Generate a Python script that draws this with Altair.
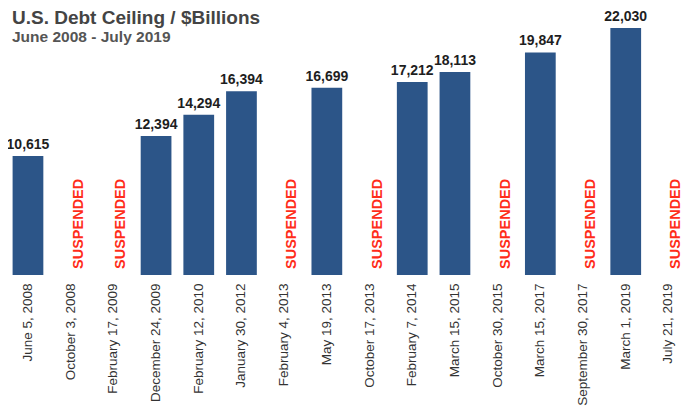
import altair as alt
import pandas as pd

dates = ["June 5, 2008", "October 3, 2008", "February 17, 2009", "December 24, 2009",
         "February 12, 2010", "January 30, 2012", "February 4, 2013", "May 19, 2013",
         "October 17, 2013", "February 7, 2014", "March 15, 2015", "October 30, 2015",
         "March 15, 2017", "September 30, 2017", "March 1, 2019", "July 21, 2019"]
ceilings = [10615, None, None, 12394, 14294, 16394, None, 16699,
            None, 17212, 18113, None, 19847, None, 22030, None]

df = pd.DataFrame({"date": dates, "ceiling": ceilings})
df["label"] = df["ceiling"].apply(lambda v: "" if pd.isna(v) else f"{int(v):,}")
df["zero"] = 0

xenc = alt.X("date:N", sort=dates, title=None,
             scale=alt.Scale(paddingInner=0.28, paddingOuter=0, range=[4.6, 675.8]),
             axis=alt.Axis(labelAngle=-90, labelAlign="right", labelBaseline="middle",
                           labelFontSize=13.5, labelColor="#333333", labelFont="Liberation Sans",
                           labelPadding=8, ticks=False, domain=False))
yscale = alt.Scale(domain=[0, 22030], nice=False, zero=True)

base = alt.Chart(df)

bars = base.transform_filter("datum.ceiling != null").mark_bar(color="#2c5588").encode(
    x=xenc,
    y=alt.Y("ceiling:Q", scale=yscale, axis=None),
)

labels = base.transform_filter("datum.ceiling != null").mark_text(
    baseline="bottom", dy=-4, fontSize=14, fontWeight="bold", color="#1e1e1e",
    font="Liberation Sans").encode(
    x=xenc,
    y=alt.Y("ceiling:Q", scale=yscale, axis=None),
    text="label:N",
)

susp = base.transform_filter("datum.ceiling == null").mark_text(
    text="SUSPENDED", angle=270, align="left", baseline="middle", dx=6, dy=8,
    fontSize=14.5, fontWeight="bold", color="#ff2d1a", font="Liberation Sans").encode(
    x=xenc,
    y=alt.Y("zero:Q", scale=yscale, axis=None),
)

chart = alt.layer(bars, labels, susp).properties(
    width=678, height=247,
    autosize=alt.AutoSizeParams(type="none"),
    padding={"left": 0, "top": 20, "right": 0, "bottom": 131},
    title=alt.TitleParams(
        "U.S. Debt Ceiling / $Billions",
        subtitle="June 2008 - July 2019",
        anchor="start", frame="group", offset=-35, dx=4,
        font="Liberation Sans", fontSize=19, fontWeight="bold", color="#444444",
        subtitleFont="Liberation Sans", subtitleFontSize=15.5, subtitleFontWeight="bold",
        subtitleColor="#555555", subtitlePadding=2,
    ),
).configure_view(stroke=None)

chart.save("out.html", embed_options={"renderer": "svg", "actions": False})
